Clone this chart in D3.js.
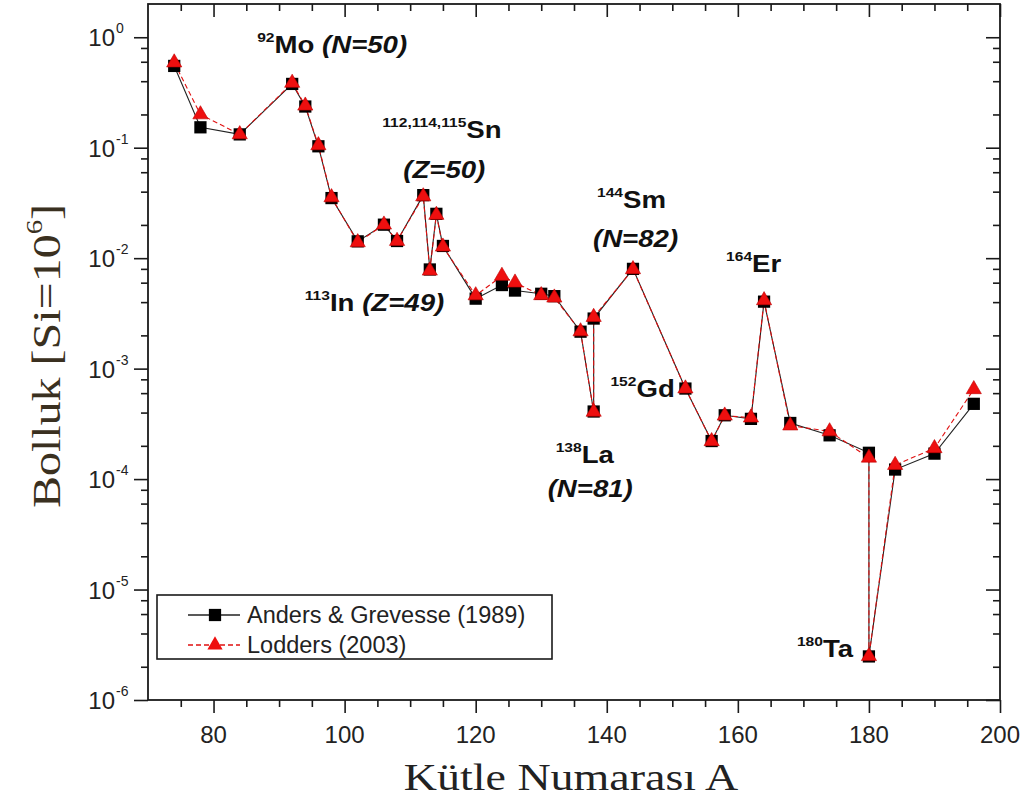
<!DOCTYPE html>
<html>
<head>
<meta charset="utf-8">
<script src="https://cdn.jsdelivr.net/npm/d3@7/dist/d3.min.js"></script>
<style>
  html, body { margin: 0; padding: 0; background: #fff; }
  svg { display: block; }
</style>
</head>
<body>
<svg id="chart" width="1034" height="798"></svg>
<script>
// p-nuclei, in the order the curves run through them
const nuclides = ["74Se","78Kr","84Sr","92Mo","94Mo","96Ru","98Ru","102Pd","106Cd","108Cd",
  "112Sn","113In","114Sn","115Sn","120Te","124Xe","126Xe","130Ba","132Ba","136Ce",
  "138La","138Ce","144Sm","152Gd","156Dy","158Dy","162Er","164Er","168Yb","174Hf",
  "180W","180Ta","184Os","190Pt","196Hg"];
const massNumbers = [74,78,84,92,94,96,98,102,106,108,112,113,114,115,120,124,126,130,132,136,
  138,138,144,152,156,158,162,164,168,174,180,180,184,190,196];

// Abundances, Si = 10^6
const andersGrevesse = [0.55,0.153,0.132,0.378,0.236,0.103,0.035,0.0142,0.0201,0.0143,
  0.0372,0.0079,0.0252,0.0129,0.0043,0.00571,0.00509,0.00476,0.00453,0.00216,
  0.000409,0.00284,0.0080,0.00066,0.000221,0.000378,0.000351,0.00404,0.000322,0.000249,
  0.000173,0.00000248,0.000122,0.00017,0.00048];
const lodders = [0.59,0.20,0.132,0.386,0.24,0.105,0.0355,0.0139,0.0201,0.0143,
  0.0362,0.0077,0.0246,0.0127,0.0046,0.0069,0.0060,0.00461,0.00439,0.00217,
  0.000406,0.00293,0.00793,0.00066,0.00022,0.000375,0.00036,0.00415,0.000305,0.00027,
  0.000156,0.00000249,0.000134,0.00019,0.00065];

const seriesNames = ["Anders & Grevesse (1989)", "Lodders (2003)"];

const xMajorTicks = [80,100,120,140,160,180,200];
const xMinorTicks = [75,85,90,95,105,110,115,125,130,135,145,150,155,165,170,175,185,190,195];
const yExponents = [0,-1,-2,-3,-4,-5,-6];
const yMinorMantissas = [2,4,6,8];

// Labelled nuclides: superscript mass, symbol, optional magic-number note
const notes = [
  { idx: 3,  mass: "92",          sym: "Mo", note: "(N=50)", noteBelow: false },
  { idx: 10, mass: "112,114,115", sym: "Sn", note: "(Z=50)", noteBelow: true  },
  { idx: 11, mass: "113",         sym: "In", note: "(Z=49)", noteBelow: false },
  { idx: 22, mass: "144",         sym: "Sm", note: "(N=82)", noteBelow: true  },
  { idx: 27, mass: "164",         sym: "Er", note: "",       noteBelow: false },
  { idx: 23, mass: "152",         sym: "Gd", note: "",       noteBelow: false },
  { idx: 20, mass: "138",         sym: "La", note: "(N=81)", noteBelow: true  },
  { idx: 31, mass: "180",         sym: "Ta", note: "",       noteBelow: false }
];
// pixel offsets of each label from its point: [sup x, symbol baseline, note x, note baseline]
const noteOffsets = {
  "Mo": [-35, -31, 0, 0],
  "Sn": [-41, -57, -20, -17],
  "In": [-125, 42, 0, 0],
  "Sm": [-36, -61, -40, -22],
  "Er": [-38, -30, 0, 0],
  "Gd": [-75, 8, 0, 0],
  "La": [-38, 51, -46, 85],
  "Ta": [-72, 1, 0, 0]
};

const svg = d3.select("#chart");
const plotLeft = 148, plotRight = 1000, plotTop = 4, plotBottom = 700;

const x = d3.scaleLinear().domain([70, 200]).range([plotLeft, plotRight]);
const y = d3.scaleLog().domain([1e-6, 2]).range([plotBottom, plotTop]);

const sans = "'Liberation Sans', Arial, Helvetica, sans-serif";
const serif = "'Liberation Serif', 'Times New Roman', serif";
const ink = "#1a1a1a";

// ---- axes ----
function styleAxis(g) {
  g.select(".domain").remove();
  g.selectAll(".tick line").attr("stroke", ink).attr("stroke-width", 1.6);
  g.selectAll("text").remove();
}
const yMinor = [];
yExponents.slice(1).forEach(e => yMinorMantissas.forEach(m => yMinor.push(m * Math.pow(10, e))));
const yMajorVals = yExponents.map(e => Math.pow(10, e));

svg.append("g").attr("transform", `translate(0,${plotBottom})`)
  .call(d3.axisBottom(x).tickValues(xMajorTicks).tickSize(13)).call(styleAxis);
svg.append("g").attr("transform", `translate(0,${plotBottom})`)
  .call(d3.axisBottom(x).tickValues(xMinorTicks).tickSize(7)).call(styleAxis);
svg.append("g").attr("transform", `translate(0,${plotTop})`)
  .call(d3.axisBottom(x).tickValues(xMajorTicks).tickSize(13)).call(styleAxis);
svg.append("g").attr("transform", `translate(0,${plotTop})`)
  .call(d3.axisBottom(x).tickValues(xMinorTicks).tickSize(7)).call(styleAxis);

svg.append("g").attr("transform", `translate(${plotLeft},0)`)
  .call(d3.axisLeft(y).tickValues(yMajorVals).tickSize(14)).call(styleAxis);
svg.append("g").attr("transform", `translate(${plotLeft},0)`)
  .call(d3.axisLeft(y).tickValues(yMinor).tickSize(7)).call(styleAxis);
svg.append("g").attr("transform", `translate(${plotRight},0)`)
  .call(d3.axisLeft(y).tickValues(yMajorVals).tickSize(14)).call(styleAxis);
svg.append("g").attr("transform", `translate(${plotRight},0)`)
  .call(d3.axisLeft(y).tickValues(yMinor).tickSize(7)).call(styleAxis);

// frame
svg.append("rect")
  .attr("x", plotLeft).attr("y", plotTop)
  .attr("width", plotRight - plotLeft).attr("height", plotBottom - plotTop)
  .attr("fill", "none").attr("stroke", ink).attr("stroke-width", 1.8);

// x tick labels
svg.append("g").selectAll("text").data(xMajorTicks).join("text")
  .attr("x", d => x(d)).attr("y", plotBottom + 43)
  .attr("text-anchor", "middle")
  .attr("font-family", sans).attr("font-size", 24).attr("fill", "#222")
  .text(d => d);

// y tick labels: 10 with superscript exponent
const yl = svg.append("g").selectAll("g").data(yExponents).join("g")
  .attr("transform", e => `translate(0,${y(Math.pow(10, e))})`);
yl.append("text").attr("x", 115).attr("y", 9)
  .attr("text-anchor", "end")
  .attr("font-family", sans).attr("font-size", 24).attr("fill", "#222")
  .text("10");
yl.append("text").attr("x", 116).attr("y", -4)
  .attr("font-family", sans).attr("font-size", 14).attr("fill", "#222")
  .text(e => e === 0 ? "0" : "-" + Math.abs(e));

// axis titles
svg.append("text")
  .attr("transform", `translate(571,790) scale(1.21,1)`)
  .attr("text-anchor", "middle")
  .attr("font-family", serif).attr("font-size", 38).attr("fill", "#222")
  .text("Kütle Numarası A");

const yt = svg.append("text")
  .attr("transform", "translate(60,356) rotate(-90) scale(1.2,1)")
  .attr("text-anchor", "middle")
  .attr("font-family", serif).attr("font-size", 40).attr("fill", "#3a3020");
yt.append("tspan").text("Bolluk [Si=10");
yt.append("tspan").attr("font-size", 24).attr("dy", -18).text("6");
yt.append("tspan").attr("dy", 18).text("]");

// ---- data ----
const ag = massNumbers.map((a, i) => ({ a, v: andersGrevesse[i] }));
const lo = massNumbers.map((a, i) => ({ a, v: lodders[i] }));
const line = d3.line().x(d => x(d.a)).y(d => y(d.v));

svg.append("path").datum(ag).attr("d", line)
  .attr("fill", "none").attr("stroke", "#222").attr("stroke-width", 1.1);
svg.append("path").datum(lo).attr("d", line)
  .attr("fill", "none").attr("stroke", "#e01010").attr("stroke-width", 1.1)
  .attr("stroke-dasharray", "5,3");

const square = d3.symbol().type(d3.symbolSquare).size(150);
const triangle = d3.symbol().type(d3.symbolTriangle).size(100);

svg.append("g").selectAll("path").data(ag).join("path")
  .attr("d", square).attr("transform", d => `translate(${x(d.a)},${y(d.v)})`)
  .attr("fill", "#000");
svg.append("g").selectAll("path").data(lo).join("path")
  .attr("d", triangle).attr("transform", d => `translate(${x(d.a)},${y(d.v)})`)
  .attr("fill", "#ee0f0f").attr("stroke", "#c00000").attr("stroke-width", 0.6);

// ---- nuclide labels ----
notes.forEach(n => {
  const px = x(massNumbers[n.idx]);
  const py = y(andersGrevesse[n.idx]);
  const [sx, sb, nx, nb] = noteOffsets[n.sym];
  const g = svg.append("g")
    .attr("transform", `translate(${px + sx},${py + sb}) scale(1.2,1)`);
  const t = g.append("text").attr("font-family", sans).attr("font-weight", "bold").attr("fill", "#111");
  t.append("tspan").attr("font-size", 13).attr("dy", -11).text(n.mass);
  t.append("tspan").attr("font-size", 23).attr("dy", 11).text(n.sym);
  if (n.note && !n.noteBelow) {
    t.append("tspan").attr("font-size", 23).attr("font-style", "italic").text(" " + n.note);
  }
  if (n.note && n.noteBelow) {
    svg.append("text")
      .attr("transform", `translate(${px + nx},${py + nb}) scale(1.2,1)`)
      .attr("font-family", sans).attr("font-weight", "bold").attr("font-style", "italic")
      .attr("font-size", 23).attr("fill", "#111")
      .text(n.note);
  }
});

// ---- legend ----
const lg = svg.append("g");
lg.append("rect").attr("x", 157).attr("y", 595).attr("width", 395).attr("height", 64)
  .attr("fill", "#fff").attr("stroke", ink).attr("stroke-width", 1.6);
const legendRows = [
  { name: seriesNames[0], stroke: "#222", dash: null, sym: square, fill: "#000" },
  { name: seriesNames[1], stroke: "#e01010", dash: "5,3", sym: triangle, fill: "#ee0f0f" }
];
legendRows.forEach((r, i) => {
  const cy = 615 + i * 30;
  lg.append("line").attr("x1", 188).attr("x2", 240).attr("y1", cy).attr("y2", cy)
    .attr("stroke", r.stroke).attr("stroke-width", 1.3).attr("stroke-dasharray", r.dash);
  lg.append("path").attr("d", r.sym).attr("transform", `translate(215,${cy})`).attr("fill", r.fill);
  lg.append("text").attr("x", 247).attr("y", cy + 8)
    .attr("font-family", sans).attr("font-size", 23.5).attr("fill", "#222")
    .text(r.name);
});
</script>
</body>
</html>
